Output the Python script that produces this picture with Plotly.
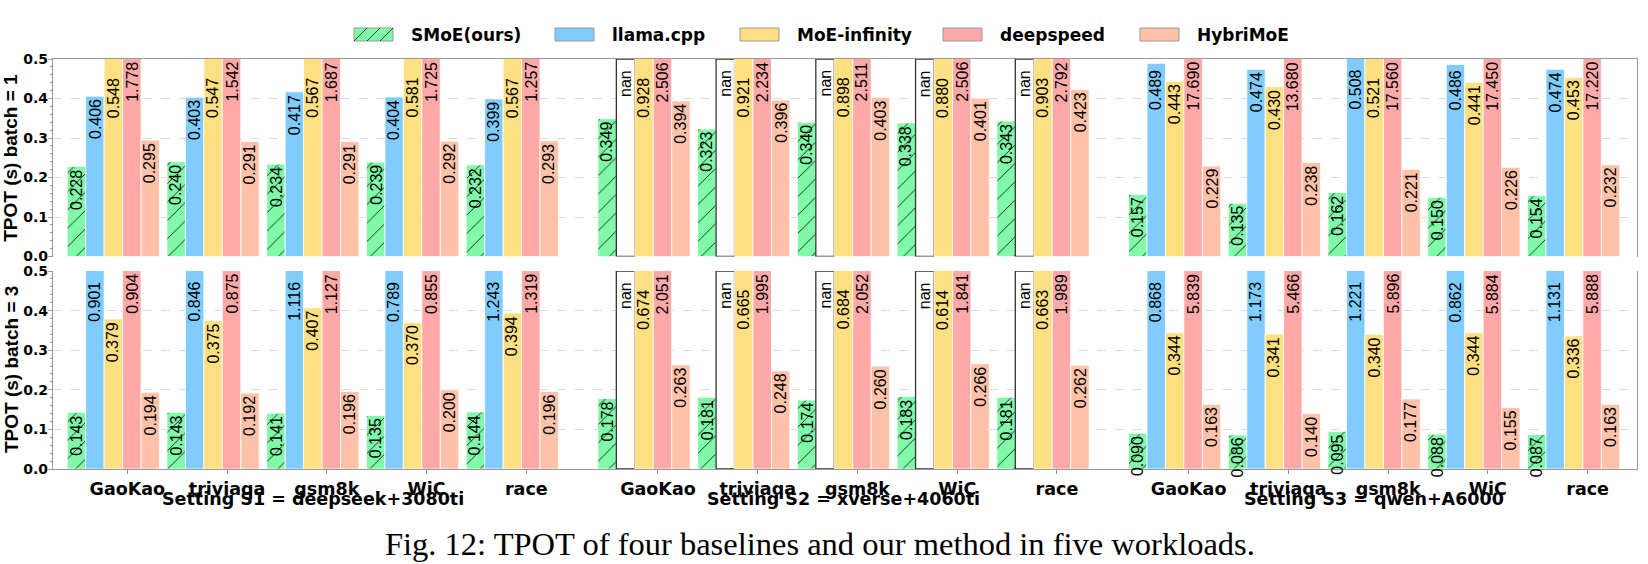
import plotly.graph_objects as go

# ---------------- data ----------------
WORKLOADS = ["GaoKao", "triviaqa", "gsm8k", "WiC", "race"]
SETTINGS = ["Setting S1 = deepseek+3080ti", "Setting S2 = xverse+4060ti", "Setting S3 = qwen+A6000"]
SERIES = ["SMoE(ours)", "llama.cpp", "MoE-infinity", "deepspeed", "HybriMoE"]
ROW_TITLES = ["TPOT (s) batch = 1", "TPOT (s) batch = 3"]
CAPTION = "Fig. 12: TPOT of four baselines and our method in five workloads."

NAN = None
# each list: S1 (5 workloads), S2 (5 workloads), S3 (5 workloads)
b1_smoe = [0.228, 0.240, 0.234, 0.239, 0.232, 0.349, 0.323, 0.340, 0.338, 0.343, 0.157, 0.135, 0.162, 0.150, 0.154]
b1_llama = [0.406, 0.403, 0.417, 0.404, 0.399, NAN, NAN, NAN, NAN, NAN, 0.489, 0.474, 0.508, 0.486, 0.474]
b1_moeinf = [0.548, 0.547, 0.567, 0.581, 0.567, 0.928, 0.921, 0.898, 0.880, 0.903, 0.443, 0.430, 0.521, 0.441, 0.453]
b1_deepspeed = [1.778, 1.542, 1.687, 1.725, 1.257, 2.506, 2.234, 2.511, 2.506, 2.792, 17.690, 13.680, 17.560, 17.450, 17.220]
b1_hybrimoe = [0.295, 0.291, 0.291, 0.292, 0.293, 0.394, 0.396, 0.403, 0.401, 0.423, 0.229, 0.238, 0.221, 0.226, 0.232]

b3_smoe = [0.143, 0.143, 0.141, 0.135, 0.144, 0.178, 0.181, 0.174, 0.183, 0.181, 0.090, 0.086, 0.095, 0.088, 0.087]
b3_llama = [0.901, 0.846, 1.116, 0.789, 1.243, NAN, NAN, NAN, NAN, NAN, 0.868, 1.173, 1.221, 0.862, 1.131]
b3_moeinf = [0.379, 0.375, 0.407, 0.370, 0.394, 0.674, 0.665, 0.684, 0.614, 0.663, 0.344, 0.341, 0.340, 0.344, 0.336]
b3_deepspeed = [0.904, 0.875, 1.127, 0.855, 1.319, 2.051, 1.995, 2.052, 1.841, 1.989, 5.839, 5.466, 5.896, 5.884, 5.888]
b3_hybrimoe = [0.194, 0.192, 0.196, 0.200, 0.196, 0.263, 0.248, 0.260, 0.266, 0.262, 0.163, 0.140, 0.177, 0.155, 0.163]

ROWS = [
    [b1_smoe, b1_llama, b1_moeinf, b1_deepspeed, b1_hybrimoe],
    [b3_smoe, b3_llama, b3_moeinf, b3_deepspeed, b3_hybrimoe],
]

# ---------------- styling / layout constants ----------------
COLORS = ["#80F9A9", "#80CCFF", "#FFDF80", "#FFA8A8", "#FFC2A8"]
LABEL_STAGGER = [0.0, 0.02, 0.04, 0.0, 0.0]   # label offset below the axis top for clipped bars
Y_MAX = 0.5
SETTING_START = [0.0, 5.32, 10.64]
BAR_W = 0.185
TICK_SHIFT = 0.14
X_RANGE = [-0.605, 15.275]

W, H = 1648, 564
M_L, M_R, M_T, M_B = 53, 11, 59, 95
PW, PH = W - M_L - M_R, H - M_T - M_B
TOP_DOM = [1 - 197.5 / PH, 1.0]
BOT_DOM = [0.0, 1 - 212.0 / PH]

FONT = "DejaVu Sans"          # horizontal texts
ROT_FONT = "Liberation Sans"  # rotated texts
AX_COL = "#999999"


def px_x(px):
    return (px - M_L) / PW


def px_y(py):
    return (H - M_B - py) / PH


centers = [SETTING_START[s] + g for s in range(len(SETTINGS)) for g in range(len(WORKLOADS))]

fig = go.Figure()
annotations = []

for r, series_vals in enumerate(ROWS):
    xa = "x" if r == 0 else "x2"
    ya = "y" if r == 0 else "y2"
    for i, vals in enumerate(series_vals):
        off = (i - 2) * BAR_W
        xs = [c + off for c in centers]
        marker = dict(color=COLORS[i], line=dict(color="white", width=0.8))
        if i == 0:
            marker["pattern"] = dict(shape="/", fgcolor="black", bgcolor=COLORS[i],
                                     size=13, solidity=0.06, fillmode="replace")
        fig.add_trace(go.Bar(x=xs, y=vals, width=BAR_W, name=SERIES[i], marker=marker,
                             xaxis=xa, yaxis=ya, showlegend=False, hoverinfo="skip"))
        # missing values: outlined empty boxes spanning the axis
        nan_x = [x for x, v in zip(xs, vals) if v is None]
        if nan_x:
            fig.add_trace(go.Bar(x=nan_x, y=[Y_MAX] * len(nan_x), width=BAR_W,
                                 marker=dict(color="white", line=dict(color="#333333", width=1.3)),
                                 xaxis=xa, yaxis=ya, showlegend=False, hoverinfo="skip"))
        for x, v in zip(xs, vals):
            txt = "nan" if v is None else f"{v:.3f}"
            yv = Y_MAX - LABEL_STAGGER[i] if v is None else min(v, Y_MAX - LABEL_STAGGER[i])
            annotations.append(dict(x=x, y=yv, xref=xa, yref=ya, text=txt, textangle=-90,
                                    showarrow=False, xanchor="center", yanchor="top", yshift=-1,
                                    font=dict(family=ROT_FONT, size=16, color="black")))

# row titles
for r, t in enumerate(ROW_TITLES):
    dom = TOP_DOM if r == 0 else BOT_DOM
    annotations.append(dict(x=px_x(11), y=(dom[0] + dom[1]) / 2, xref="paper", yref="paper",
                            text=t, textangle=-90, showarrow=False, xanchor="center", yanchor="middle",
                            font=dict(family=ROT_FONT, size=19, color="black", weight="bold")))

# setting labels
for s, name in enumerate(SETTINGS):
    cx = SETTING_START[s] + (len(WORKLOADS) - 1) / 2
    annotations.append(dict(x=cx, y=px_y(499), xref="x2", yref="paper", text=name, showarrow=False,
                            xanchor="center", yanchor="middle",
                            font=dict(family=FONT, size=17.5, color="black", weight="bold")))

# caption
annotations.append(dict(x=px_x(820), y=px_y(544), xref="paper", yref="paper", text=CAPTION,
                        showarrow=False, xanchor="center", yanchor="middle",
                        font=dict(family="Liberation Serif", size=32.5, color="black")))

# custom legend
shapes = []
LEG_BOX_X = [354, 555, 740, 943, 1140]
LEG_BOX_W, LEG_Y0, LEG_Y1 = 39, 28, 41
for i, name in enumerate(SERIES):
    x0 = LEG_BOX_X[i]
    shapes.append(dict(type="rect", xref="paper", yref="paper",
                       x0=px_x(x0), x1=px_x(x0 + LEG_BOX_W), y0=px_y(LEG_Y1), y1=px_y(LEG_Y0),
                       fillcolor=COLORS[i], line=dict(color="#999999", width=1)))
    if i == 0:
        step = 13
        for k in range(3):
            shapes.append(dict(type="line", xref="paper", yref="paper",
                               x0=px_x(x0 + k * step), x1=px_x(x0 + (k + 1) * step),
                               y0=px_y(LEG_Y1), y1=px_y(LEG_Y0),
                               line=dict(color="black", width=0.7)))
    annotations.append(dict(x=px_x(x0 + LEG_BOX_W + 15.5), y=px_y(35), xref="paper", yref="paper",
                            text=name, showarrow=False, xanchor="left", yanchor="middle",
                            font=dict(family=FONT, size=17, color="black", weight="bold")))

yaxis_common = dict(range=[0, Y_MAX], dtick=0.1, tickformat=".1f", showline=True, linecolor=AX_COL,
                    linewidth=1.2, mirror=True, ticks="outside", ticklen=4, tickcolor=AX_COL,
                    ticklabelstandoff=-3,
                    showgrid=True, gridcolor="#dcdcdc", griddash="dash", gridwidth=0.8,
                    zeroline=False,
                    minor=dict(dtick=0.02, ticks="outside", ticklen=2, tickcolor=AX_COL, showgrid=False),
                    tickfont=dict(family=FONT, size=14, color="black", weight="bold"))

fig.update_layout(
    width=W, height=H, margin=dict(l=M_L, r=M_R, t=M_T, b=M_B),
    paper_bgcolor="white", plot_bgcolor="white",
    barmode="overlay", showlegend=False,
    xaxis=dict(domain=[0, 1], anchor="y", side="top", range=X_RANGE, showline=True, linecolor=AX_COL,
               linewidth=1.2, showticklabels=False, ticks="", showgrid=False, zeroline=False),
    yaxis=dict(domain=TOP_DOM, anchor="x", **yaxis_common),
    xaxis2=dict(domain=[0, 1], anchor="y2", range=X_RANGE, showline=True, linecolor=AX_COL,
                linewidth=1.2, tickvals=[c + TICK_SHIFT for c in centers],
                ticktext=WORKLOADS * len(SETTINGS), ticks="outside", ticklen=4, tickcolor=AX_COL,
                showgrid=False, zeroline=False,
                tickfont=dict(family=FONT, size=17.5, color="black", weight="bold")),
    yaxis2=dict(domain=BOT_DOM, anchor="x2", **yaxis_common),
    annotations=annotations,
    shapes=shapes,
)

fig.write_html("out.html")
